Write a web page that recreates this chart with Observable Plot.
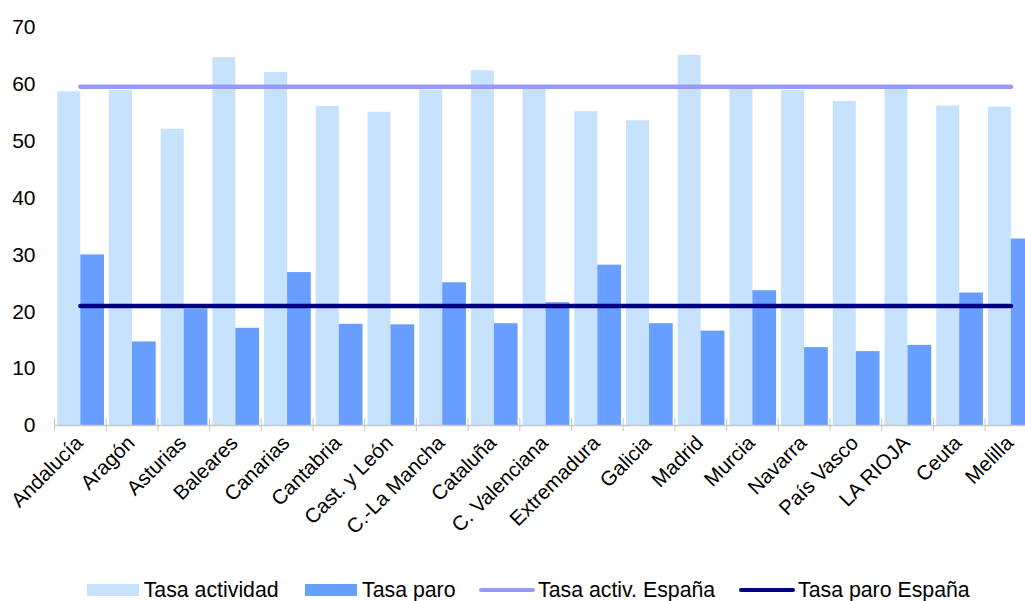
<!DOCTYPE html>
<html>
<head>
<meta charset="utf-8">
<script src="https://cdn.jsdelivr.net/npm/d3@7"></script>
<script src="https://cdn.jsdelivr.net/npm/@observablehq/plot@0.6"></script>
<style>
  html, body { margin: 0; padding: 0; background: #fff; overflow: hidden; width: 1025px; height: 601px; }
  #chart { position: absolute; left: 0; top: 0; width: 1040px; }
  #chart svg { max-width: none !important; }
  #legend { position: absolute; left: 0; top: 569px; width: 1025px; height: 41px;
            font-family: "Liberation Sans", Arial, Helvetica, sans-serif; font-size: 21.3px; color: #000; }
  .item { position: absolute; top: 0; height: 41px; display: flex; align-items: center; white-space: nowrap; }
  .item span.lab { position: relative; top: 1px; }
</style>
</head>
<body>
<div id="chart"></div>
<div id="legend"></div>
<script>
const regions = ["Andalucía", "Aragón", "Asturias", "Baleares", "Canarias", "Cantabria", "Cast. y León", "C.-La Mancha", "Cataluña", "C. Valenciana", "Extremadura", "Galicia", "Madrid", "Murcia", "Navarra", "País Vasco", "LA RIOJA", "Ceuta", "Melilla"];
const tasaActividad = [58.7, 58.9, 52.1, 64.7, 62.1, 56.1, 55.1, 59.0, 62.4, 59.8, 55.2, 53.6, 65.1, 59.8, 58.9, 57.0, 59.8, 56.2, 56.0];
const tasaParo = [30.0, 14.7, 20.5, 17.1, 26.9, 17.8, 17.7, 25.1, 17.9, 21.6, 28.2, 17.9, 16.6, 23.7, 13.7, 13.0, 14.1, 23.3, 32.8];
const tasaActivEspana = 59.6;
const tasaParoEspana = 21.0;
const yTicks = [0, 10, 20, 30, 40, 50, 60, 70];
const seriesNames = ["Tasa actividad", "Tasa paro", "Tasa activ. España", "Tasa paro España"];

const colLight = "#c6e2fd";
const colMid = "#679eff";
const colLav = "#9999f7";
const colNavy = "#000080";
const font = "'Liberation Sans', Arial, Helvetica, sans-serif";

const rows = regions.map((r, i) => ({region: r, actividad: tasaActividad[i], paro: tasaParo[i]}));

const W = 1040, ML = 54, MR = 3.7;
const bw = (W - ML - MR) / regions.length;

const chart = Plot.plot({
  width: W,
  height: 565,
  marginLeft: ML,
  marginRight: MR,
  marginTop: 27,
  marginBottom: 140,
  style: {fontFamily: font, fontSize: "20px", color: "#000", background: "#fff", overflow: "visible", maxWidth: "none"},
  x: {domain: regions, padding: 0, round: false, label: null, axis: null},
  y: {domain: [0, 70], label: null, axis: null},
  marks: [
    Plot.barY(rows, {x: "region", y: "actividad", fill: colLight, insetLeft: 3.3, insetRight: bw - 26.3}),
    Plot.barY(rows, {x: "region", y: "paro", fill: colMid, insetLeft: 26.3, insetRight: 1.7}),
    Plot.ruleY([0], {stroke: "#c8c8c8", strokeWidth: 1.3}),
    Plot.axisX({tickSize: 13, dy: -7, dx: -bw / 2, tickFormat: () => "", stroke: "#c8c8c8", strokeOpacity: 1}),
    Plot.axisX({tickSize: 0, tickRotate: -45, tickPadding: 14, fontSize: 20.5, fill: "#000", dx: -1}),
    Plot.axisY({ticks: yTicks, tickSize: 0, tickPadding: 19, fontSize: 21, fill: "#000"}),
    Plot.line(regions, {x: d => d, y: () => tasaActivEspana, stroke: colLav, strokeWidth: 4.5, strokeLinecap: "round"}),
    Plot.line(regions, {x: d => d, y: () => tasaParoEspana, stroke: colNavy, strokeWidth: 4.5, strokeLinecap: "round"})
  ]
});
document.getElementById("chart").appendChild(chart);

// legend
const legend = document.getElementById("legend");
const lefts = [86.7, 305, 479, 739];
seriesNames.forEach((name, i) => {
  const it = document.createElement("div");
  it.className = "item";
  it.style.left = lefts[i] + "px";
  const sw = document.createElement("span");
  if (i < 2) {
    sw.style.cssText = `display:inline-block;width:52px;height:12px;background:${i === 0 ? colLight : colMid};margin-right:5px;`;
  } else {
    sw.style.cssText = `display:inline-block;width:56px;height:4px;border-radius:2px;background:${i === 2 ? colLav : colNavy};margin-right:3px;`;
  }
  const lab = document.createElement("span");
  lab.className = "lab";
  lab.textContent = name;
  it.appendChild(sw);
  it.appendChild(lab);
  legend.appendChild(it);
});
</script>
</body>
</html>
